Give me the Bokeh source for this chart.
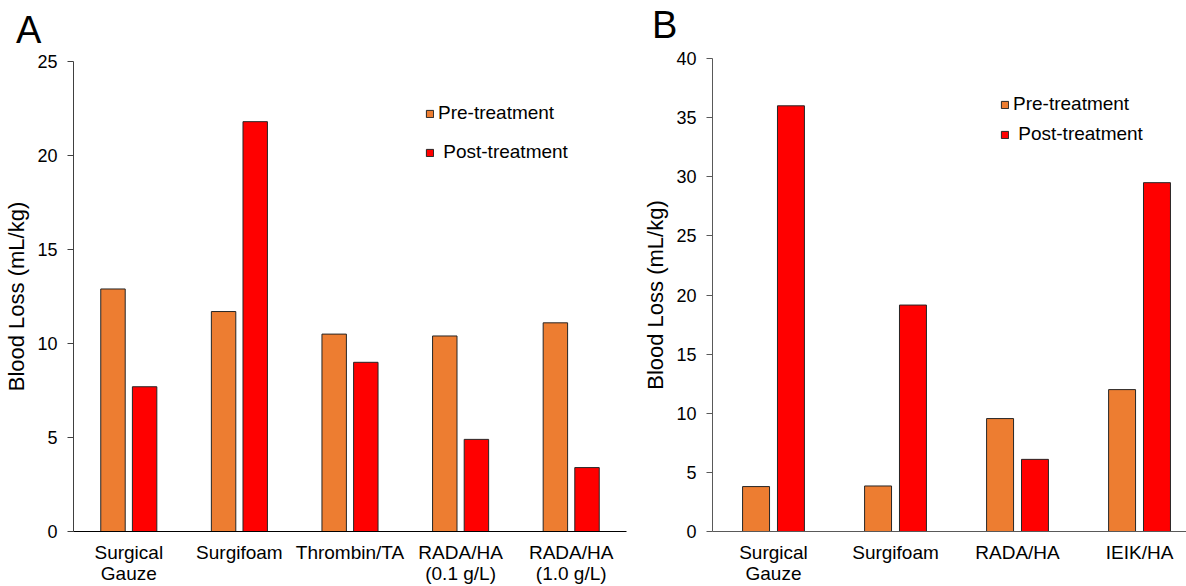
from bokeh.plotting import figure
from bokeh.models import Range1d, FixedTicker, Legend, LegendItem, Div
from bokeh.layouts import row, column
from bokeh.embed import file_html
from bokeh.resources import INLINE
import numpy as np

# Panel A: blood loss by hemostat
cats_a = ["Surgical\nGauze", "Surgifoam", "Thrombin/TA", "RADA/HA\n(0.1 g/L)", "RADA/HA\n(1.0 g/L)"]
pre_a = [12.9, 11.7, 10.5, 10.4, 11.1]
post_a = [7.7, 21.8, 9.0, 4.9, 3.4]

# Panel B: blood loss by hemostat
cats_b = ["Surgical\nGauze", "Surgifoam", "RADA/HA", "IEIK/HA"]
pre_b = [3.8, 3.85, 9.55, 12.0]
post_b = [36.0, 19.15, 6.1, 29.5]

series_labels = ["Pre-treatment", "\u00a0Post-treatment"]
PRE_COLOR = "#ED7D31"
POST_COLOR = "#FF0000"
FONT = "Liberation Sans"
HEADER_H = 45  # strip above each chart that holds the panel letter


def panel(letter, cats, pre, post, ymax, x_end, width, borders, axis_color,
          xaxis_color, leg_loc, leg_spacing, letter_pad, label_standoff_x):
    left, right, top, bottom = borders
    p = figure(width=width, height=586 - HEADER_H,
               x_range=Range1d(-0.5, x_end), y_range=Range1d(0, ymax),
               output_backend="svg", toolbar_location=None,
               min_border_left=left, min_border_right=right,
               min_border_top=top - HEADER_H, min_border_bottom=bottom)
    p.outline_line_color = None
    p.xgrid.grid_line_color = None
    p.ygrid.grid_line_color = None

    x = np.arange(len(cats))
    bw = 0.221
    off = 0.143
    r_pre = p.vbar(x=x - off, top=pre, width=bw, bottom=0,
                   fill_color=PRE_COLOR, line_color="#262626", line_width=1)
    r_post = p.vbar(x=x + off, top=post, width=bw, bottom=0,
                    fill_color=POST_COLOR, line_color="#262626", line_width=1)

    # y axis
    ya = p.yaxis[0]
    ya.ticker = FixedTicker(ticks=list(range(0, ymax + 1, 5)))
    ya.minor_tick_line_color = None
    ya.major_tick_out = 6
    ya.major_tick_in = 0
    ya.major_label_standoff = 10
    ya.axis_line_color = axis_color
    ya.major_tick_line_color = axis_color
    ya.major_label_text_font = FONT
    ya.major_label_text_font_size = "18px"
    ya.major_label_text_color = "black"
    ya.axis_label = "Blood Loss (mL/kg)"
    ya.axis_label_text_font = FONT
    ya.axis_label_text_font_size = "22px"
    ya.axis_label_text_font_style = "normal"
    ya.axis_label_text_color = "black"
    ya.axis_label_standoff = 5

    # x axis with category names
    xa = p.xaxis[0]
    xa.ticker = FixedTicker(ticks=list(x))
    xa.major_label_overrides = {int(i): c for i, c in zip(x, cats)}
    xa.major_tick_line_color = None
    xa.minor_tick_line_color = None
    xa.major_tick_out = 0
    xa.major_tick_in = 0
    xa.major_label_standoff = label_standoff_x
    xa.axis_line_color = xaxis_color
    xa.major_label_text_font = FONT
    xa.major_label_text_font_size = "19px"
    xa.major_label_text_color = "black"
    xa.major_label_text_line_height = 1.0

    legend = Legend(items=[LegendItem(label=series_labels[0], renderers=[r_pre]),
                           LegendItem(label=series_labels[1], renderers=[r_post])],
                    location=leg_loc, orientation="vertical",
                    glyph_width=9, glyph_height=9, label_standoff=4,
                    label_height=20, spacing=leg_spacing, padding=0, margin=0,
                    border_line_color=None, background_fill_alpha=0,
                    label_text_font=FONT, label_text_font_size="19px",
                    label_text_color="black")
    p.add_layout(legend)

    # panel letter in a strip above the chart
    pad_top, pad_left = letter_pad
    head = Div(text=(f'<div style="font-family:\'{FONT}\';font-size:38px;'
                     f'line-height:38px;color:#000;margin:0;'
                     f'padding:{pad_top}px 0 0 {pad_left}px">{letter}</div>'),
               width=width, height=HEADER_H, margin=0)
    return column(head, p, spacing=0)


pa = panel("A", cats_a, pre_a, post_a, 25, 4.5, 640, (73, 14, 61, 54),
           "#404040", "#000000", (352, 368), 17, (11, 16), 10)
pb = panel("B", cats_b, pre_b, post_b, 40, 3.385, 546, (72, 0, 58, 53),
           "#595959", "#595959", (288, 386), 8, (6, 12), 10)

layout = row(pa, pb, spacing=0)
open("out.html", "w").write(file_html(layout, INLINE))
